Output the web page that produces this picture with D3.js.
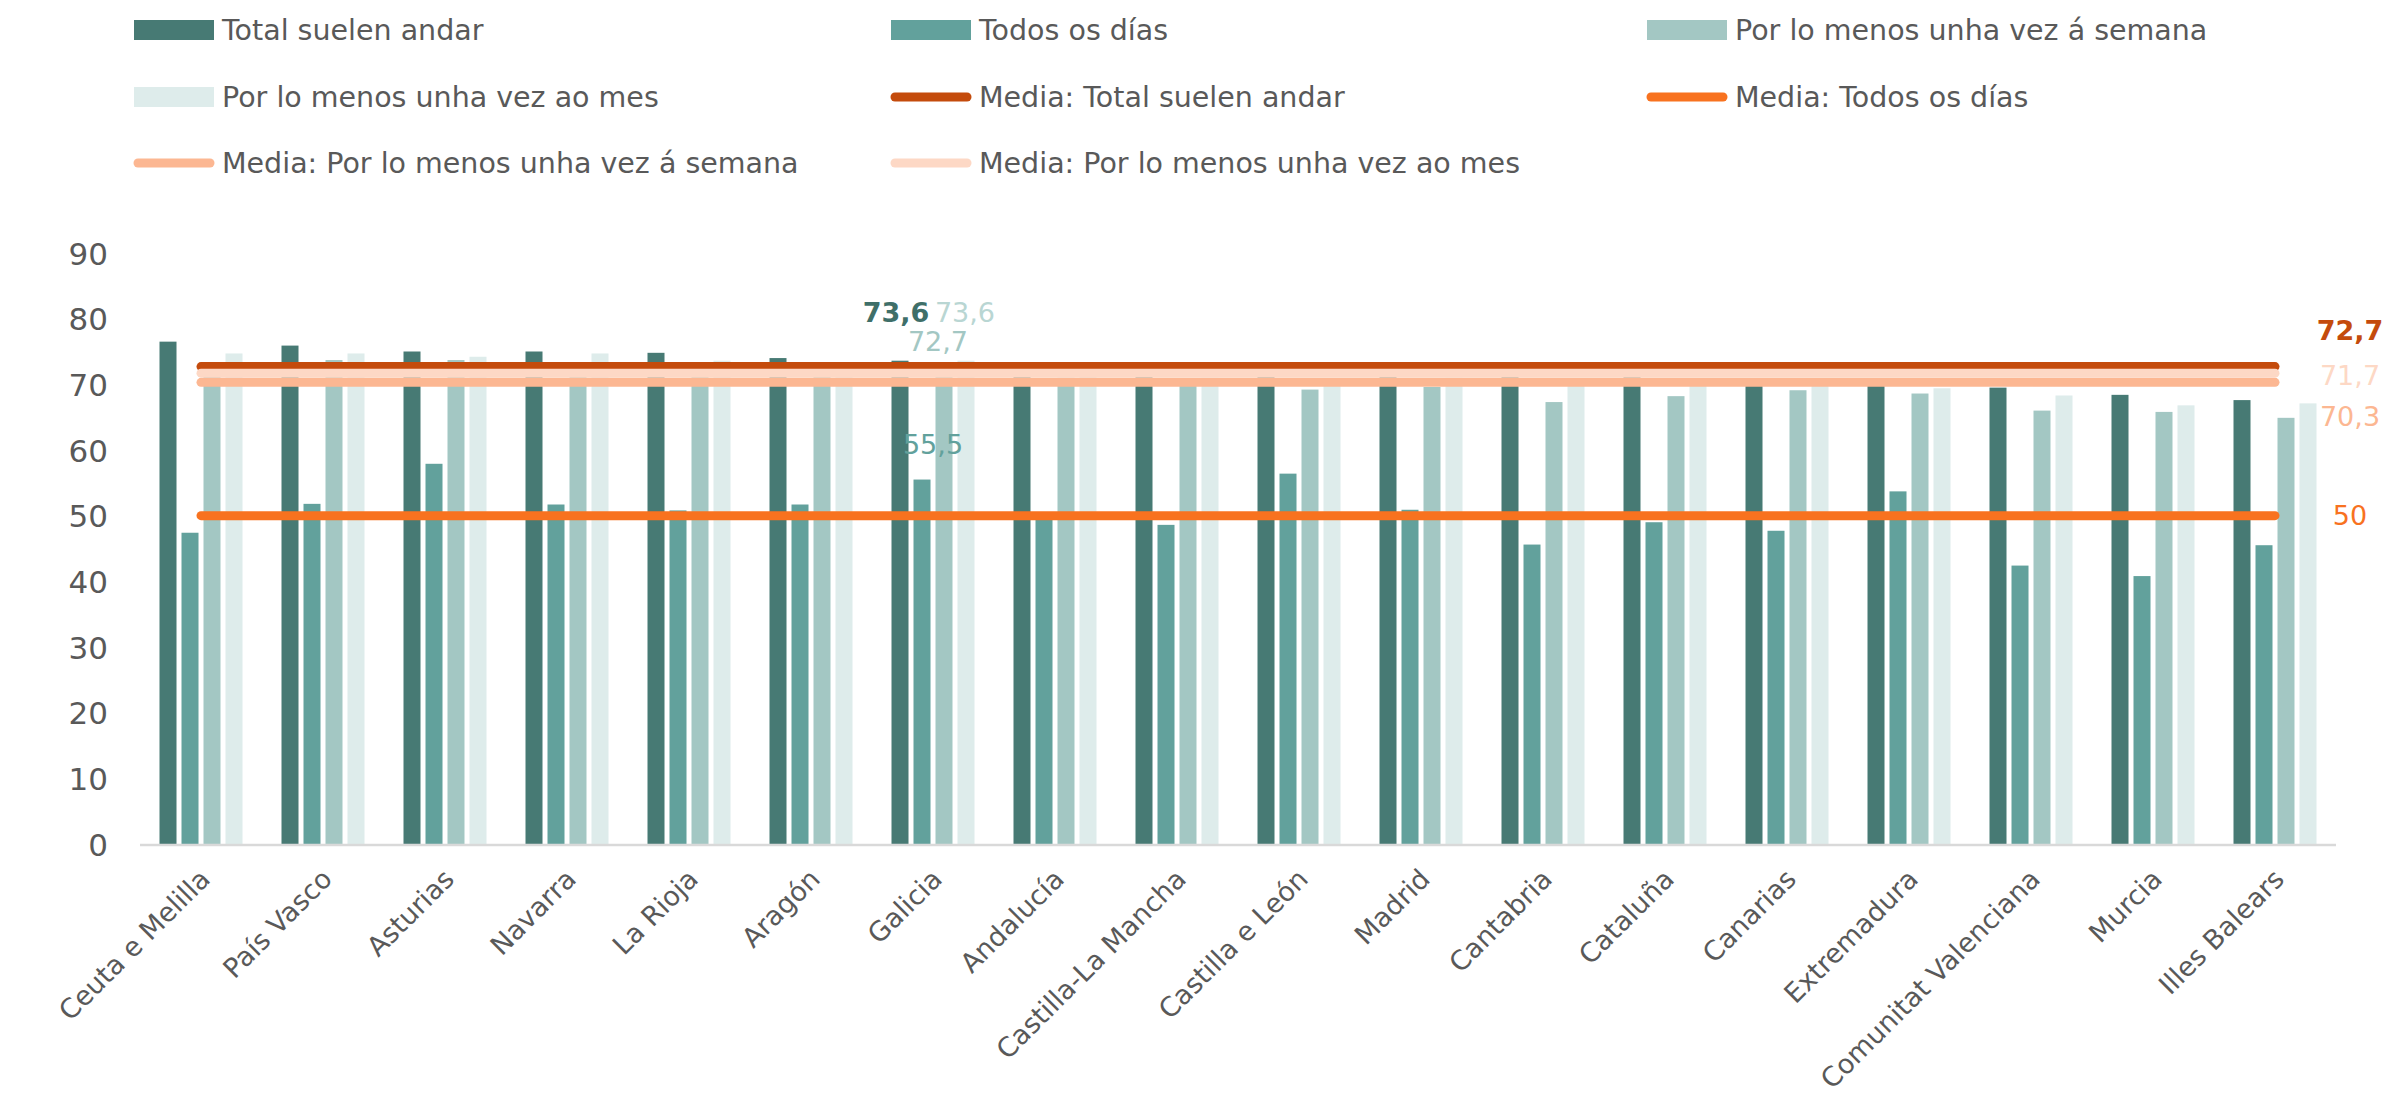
<!DOCTYPE html>
<html>
<head>
<meta charset="utf-8">
<script src="https://cdn.jsdelivr.net/npm/d3@7"></script>
<style>
  html, body { margin: 0; padding: 0; background: #ffffff; }
  svg { display: block; }
  text { font-family: "DejaVu Sans", sans-serif; fill: #595959; }
</style>
</head>
<body>
<script>
// ---------- DATA ----------
const categories = ["Ceuta e Melilla", "País Vasco", "Asturias", "Navarra", "La Rioja", "Aragón", "Galicia",
  "Andalucía", "Castilla-La Mancha", "Castilla e León", "Madrid", "Cantabria", "Cataluña", "Canarias",
  "Extremadura", "Comunitat Valenciana", "Murcia", "Illes Balears"];
const seriesNames = ["Total suelen andar", "Todos os días", "Por lo menos unha vez á semana", "Por lo menos unha vez ao mes"];
const totalSuelen = [76.5, 75.9, 75.0, 75.0, 74.8, 74.0, 73.6, 73.0, 72.6, 72.2, 71.9, 71.5, 71.1, 70.8, 70.3, 69.5, 68.4, 67.6];
const todosDias   = [47.4, 51.8, 57.9, 51.7, 50.8, 51.7, 55.5, 49.8, 48.6, 56.4, 50.9, 45.6, 49.0, 47.7, 53.7, 42.4, 40.8, 45.5];
const porSemana   = [72.0, 73.7, 73.7, 71.5, 71.8, 72.0, 72.7, 71.0, 69.8, 69.2, 69.6, 67.3, 68.2, 69.1, 68.6, 66.0, 65.8, 64.9];
const porMes      = [74.7, 74.7, 74.2, 74.7, 73.6, 72.5, 73.6, 72.0, 71.0, 70.5, 71.0, 70.2, 70.5, 70.0, 69.4, 68.3, 66.8, 67.1];
const meanNames   = ["Media: Total suelen andar", "Media: Todos os días", "Media: Por lo menos unha vez á semana", "Media: Por lo menos unha vez ao mes"];
const meanValues  = [72.7, 50, 70.3, 71.7];
const meanLabels  = ["72,7", "50", "70,3", "71,7"];
const yTicks      = [0, 10, 20, 30, 40, 50, 60, 70, 80, 90];
// data labels shown for Galicia (series index, text)
const galiciaLabels = [
  { series: 0, text: "73,6" },
  { series: 1, text: "55,5" },
  { series: 2, text: "72,7" },
  { series: 3, text: "73,6" }
];

// ---------- STYLE ----------
const barColors  = ["#477a74", "#62a19c", "#a3c7c3", "#deeceb"];
const meanColors = ["#c44b0c", "#f8721f", "#fcb792", "#fdd8c5"];
const labelColors = ["#3f6f69", "#62a19c", "#a3c7c3", "#b9d6d3"];
const labelOffsets = [48, 35, 25, 48];
const labelDx = [-4, 11, -6, -1];

const W = 2397, H = 1119;
const svg = d3.select("body").append("svg").attr("width", W).attr("height", H);
svg.append("rect").attr("width", W).attr("height", H).attr("fill", "#ffffff");

const allSeries = [totalSuelen, todosDias, porSemana, porMes];

const x0 = d3.scaleBand().domain(categories).range([140, 2336]).padding(0);
const x1 = d3.scaleBand().domain(d3.range(4)).range([19.5, 102.5]).paddingInner(0.227).paddingOuter(0);
const y = d3.scaleLinear().domain([0, 90]).range([844, 253]);

// Y axis
const yAxis = d3.axisLeft(y).tickValues(yTicks).tickSize(0).tickPadding(0).tickFormat(d3.format("d"));
const gy = svg.append("g").attr("transform", "translate(108,0)").call(yAxis);
gy.select(".domain").remove();
gy.selectAll("text").attr("font-size", 31).attr("fill", "#595959")
  .style("font-family", "'DejaVu Sans', sans-serif").attr("dy", "0.36em");

// Bars
const groups = svg.append("g").selectAll("g").data(categories).join("g")
  .attr("transform", d => `translate(${x0(d)},0)`);
groups.selectAll("rect").data((d, i) => allSeries.map((s, k) => ({ k, v: s[i] }))).join("rect")
  .attr("x", d => x1(d.k))
  .attr("width", x1.bandwidth())
  .attr("y", d => y(d.v))
  .attr("height", d => y(0) - y(d.v))
  .attr("fill", d => barColors[d.k]);

// X axis line
svg.append("line").attr("x1", 140).attr("x2", 2336).attr("y1", 845).attr("y2", 845)
  .attr("stroke", "#d9d9d9").attr("stroke-width", 2.5);

// X axis labels
const xAxis = d3.axisBottom(x0).tickSize(0).tickPadding(0);
const gx = svg.append("g").attr("transform", "translate(0,0)").call(xAxis);
gx.select(".domain").remove();
gx.selectAll(".tick line").remove();
gx.selectAll(".tick text")
  .attr("font-size", 27).attr("fill", "#595959")
  .style("font-family", "'DejaVu Sans', sans-serif")
  .attr("text-anchor", "end")
  .attr("y", 0).attr("dy", "0.35em")
  .attr("transform", "translate(4,874) rotate(-45)");

// Mean lines (drawn in series order)
const xStart = x0(categories[0]) + x0.bandwidth() / 2;
const xEnd = x0(categories[categories.length - 1]) + x0.bandwidth() / 2;
svg.append("g").selectAll("line").data(meanValues).join("line")
  .attr("x1", xStart).attr("x2", xEnd)
  .attr("y1", d => y(d)).attr("y2", d => y(d))
  .attr("stroke", (d, i) => meanColors[i])
  .attr("stroke-width", 9)
  .attr("stroke-linecap", "round");

// Mean labels on right
const meanLabelY = { 0: -36, 1: 0, 2: 34, 3: 2 };
svg.append("g").selectAll("text").data(meanValues).join("text")
  .attr("x", 2350)
  .attr("y", (d, i) => y(d) + meanLabelY[i])
  .attr("dy", "0.36em")
  .attr("text-anchor", "middle")
  .attr("font-size", 27)
  .attr("font-weight", (d, i) => i === 0 ? "bold" : "normal")
  .style("fill", (d, i) => meanColors[i])
  .text((d, i) => meanLabels[i]);

// Galicia data labels
const gi = categories.indexOf("Galicia");
svg.append("g").selectAll("text").data(galiciaLabels).join("text")
  .attr("x", d => x0(categories[gi]) + x1(d.series) + x1.bandwidth() / 2 + labelDx[d.series])
  .attr("y", d => y(allSeries[d.series][gi]) - labelOffsets[d.series])
  .attr("dy", "0.36em")
  .attr("text-anchor", "middle")
  .attr("font-size", 27)
  .attr("font-weight", d => d.series === 0 ? "bold" : "normal")
  .style("fill", d => labelColors[d.series])
  .text(d => d.text);

// Legend
const legendItems = [
  { name: seriesNames[0], type: "bar", color: barColors[0] },
  { name: seriesNames[1], type: "bar", color: barColors[1] },
  { name: seriesNames[2], type: "bar", color: barColors[2] },
  { name: seriesNames[3], type: "bar", color: barColors[3] },
  { name: meanNames[0], type: "line", color: meanColors[0] },
  { name: meanNames[1], type: "line", color: meanColors[1] },
  { name: meanNames[2], type: "line", color: meanColors[2] },
  { name: meanNames[3], type: "line", color: meanColors[3] }
];
const colX = [134, 891, 1647];
const rowY = [30, 97, 163];
const lg = svg.append("g").selectAll("g").data(legendItems).join("g")
  .attr("transform", (d, i) => `translate(${colX[i % 3]},${rowY[Math.floor(i / 3)]})`);
lg.filter(d => d.type === "bar").append("rect")
  .attr("x", 0).attr("y", -10).attr("width", 80).attr("height", 20).attr("fill", d => d.color);
lg.filter(d => d.type === "line").append("line")
  .attr("x1", 4).attr("x2", 76).attr("y1", 0).attr("y2", 0)
  .attr("stroke", d => d.color).attr("stroke-width", 9).attr("stroke-linecap", "round");
lg.append("text").attr("x", 88).attr("y", 0).attr("dy", "0.36em")
  .attr("font-size", 28.5).style("fill", "#595959").text(d => d.name);
</script>
</body>
</html>
